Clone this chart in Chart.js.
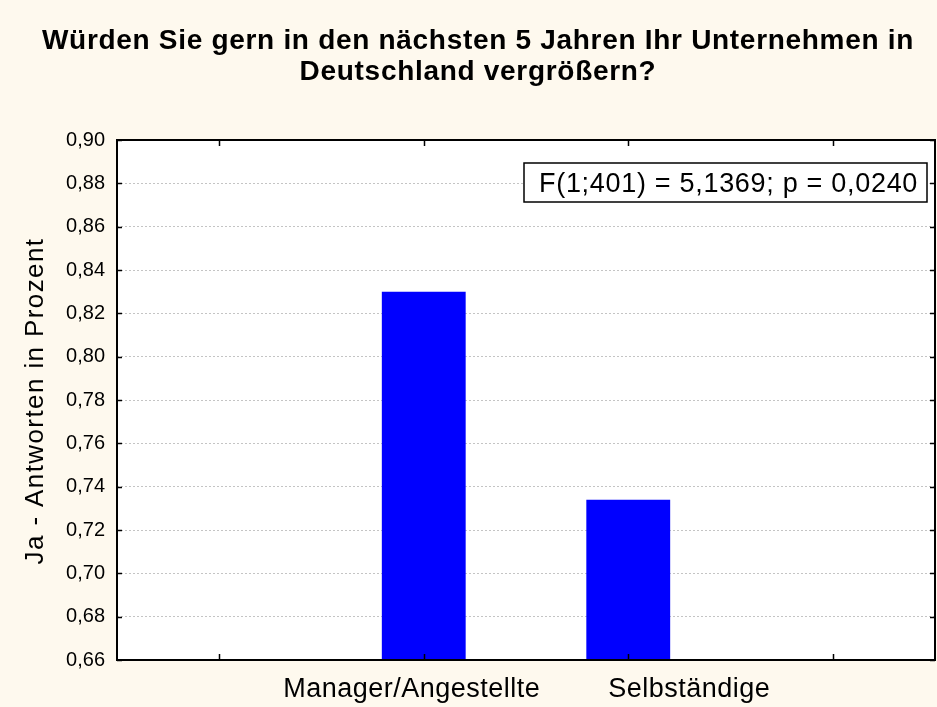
<!DOCTYPE html>
<html>
<head>
<meta charset="utf-8">
<script src="https://cdn.jsdelivr.net/npm/chart.js@4/dist/chart.umd.min.js"></script>
<style>
  html, body { margin: 0; padding: 0; background: #fef9ee; }
  #wrap { width: 937px; height: 707px; }
</style>
</head>
<body>
<div id="wrap"><canvas id="chart"></canvas></div>
<script>
// data
const chartTitle = ['Würden Sie gern in den nächsten 5 Jahren Ihr Unternehmen in', 'Deutschland vergrößern?'];
const yTitle = 'Ja - Antworten in Prozent';
const categories = ['', 'Manager/Angestellte', 'Selbständige', ''];
const values = [null, 0.830, 0.734, null];
const yMin = 0.66, yMax = 0.90, yStep = 0.02;
const statText = 'F(1;401) = 5,1369; p = 0,0240';

const FONT = '"Liberation Sans", Arial, sans-serif';
const labelShift = [0, -12, 61, 0];   // x labels are not centred under the bars in the original

function text(ctx, str, x, y, size, spacing, bold) {
  ctx.font = (bold ? 'bold ' : '') + size + 'px ' + FONT;
  ctx.letterSpacing = spacing + 'px';
  ctx.fillText(str, x, y);
}

const framePlugin = {
  id: 'frame',
  beforeDraw(chart) {
    const ctx = chart.ctx, a = chart.chartArea;
    ctx.save();
    ctx.fillStyle = '#fef9ee';
    ctx.fillRect(0, 0, chart.width, chart.height);
    ctx.fillStyle = '#ffffff';
    ctx.fillRect(a.left, a.top, a.right - a.left, a.bottom - a.top);
    ctx.restore();
  },
  afterDraw(chart) {
    const ctx = chart.ctx, a = chart.chartArea;
    const x = chart.scales.x, y = chart.scales.y;
    ctx.save();
    ctx.strokeStyle = '#000';
    ctx.lineWidth = 2;
    ctx.strokeRect(a.left, a.top, a.right - a.left, a.bottom - a.top);

    // small inward tick marks on all four sides
    ctx.lineWidth = 1.5;
    ctx.beginPath();
    y.ticks.forEach(t => {
      const py = Math.round(y.getPixelForValue(t.value)) + 0.5;
      ctx.moveTo(a.left, py); ctx.lineTo(a.left + 5, py);
      ctx.moveTo(a.right, py); ctx.lineTo(a.right - 5, py);
    });
    categories.forEach((c, i) => {
      const px = Math.round(x.getPixelForValue(i)) + 0.5;
      ctx.moveTo(px, a.bottom); ctx.lineTo(px, a.bottom - 6);
      ctx.moveTo(px, a.top); ctx.lineTo(px, a.top + 6);
    });
    ctx.stroke();

    ctx.fillStyle = '#000';
    ctx.textBaseline = 'alphabetic';

    // category labels
    ctx.textAlign = 'center';
    categories.forEach((c, i) => {
      if (c) text(ctx, c, x.getPixelForValue(i) + labelShift[i], 697, 27, 0.5, false);
    });

    // title
    text(ctx, chartTitle[0], 478, 49, 28, 0.7, true);
    text(ctx, chartTitle[1], 478, 80, 28, 0.7, true);

    // statistics box
    ctx.fillStyle = '#fff';
    ctx.fillRect(524, 163, 403, 39);
    ctx.lineWidth = 1.5;
    ctx.strokeRect(524, 163, 403, 39);
    ctx.fillStyle = '#000';
    ctx.textAlign = 'left';
    text(ctx, statText, 539, 192, 27, 0.7, false);

    // y axis title
    ctx.translate(43, 401);
    ctx.rotate(-Math.PI / 2);
    ctx.textAlign = 'center';
    text(ctx, yTitle, 0, 0, 26, 1.4, false);
    ctx.restore();
  }
};

new Chart(document.getElementById('chart'), {
  type: 'bar',
  data: {
    labels: categories,
    datasets: [{
      data: values,
      backgroundColor: '#0000ff',
      borderWidth: 0,
      barPercentage: 0.41,
      categoryPercentage: 1.0
    }]
  },
  options: {
    responsive: true,
    maintainAspectRatio: false,
    animation: false,
    devicePixelRatio: 1,
    layout: { padding: { top: 140, right: 2, bottom: 0, left: 0 } },
    plugins: {
      legend: { display: false },
      tooltip: { enabled: false },
      title: { display: false }
    },
    scales: {
      x: {
        type: 'category',
        grid: { display: false },
        border: { display: false },
        ticks: { display: false },
        afterFit(s) { s.height = 47; }
      },
      y: {
        min: yMin,
        max: yMax,
        grid: { color: '#c4c4c4', lineWidth: 1, drawTicks: false },
        border: { display: false, dash: [2, 2] },
        ticks: {
          stepSize: yStep,
          padding: 12,
          color: '#000',
          font: { family: FONT, size: 20 },
          callback: v => v.toFixed(2).replace('.', ',')
        },
        afterFit(s) { s.width = 117; }
      }
    }
  },
  plugins: [framePlugin]
});
</script>
</body>
</html>
